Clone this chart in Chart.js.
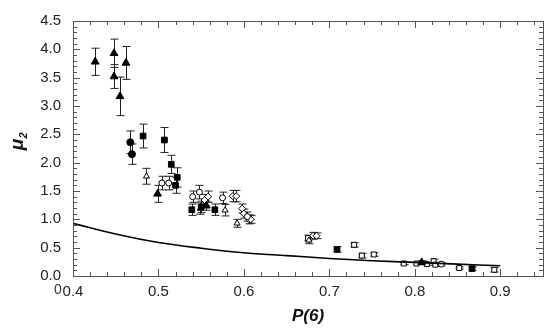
<!DOCTYPE html>
<html>
<head>
<meta charset="utf-8">
<script src="https://cdn.jsdelivr.net/npm/chart.js@4.4.0/dist/chart.umd.min.js"></script>
<style>
  html, body { margin: 0; padding: 0; background: #fff; }
  #wrap { width: 550px; height: 332px; }
</style>
</head>
<body>
<div id="wrap"><canvas id="chart" width="550" height="332"></canvas></div>
<script>
// Data: x = P(6), y = mu2, err = half error bar
const triFilledX = [0.426, 0.448, 0.448, 0.462, 0.455, 0.499, 0.556, 0.808];
const triFilledY = [3.78, 3.93, 3.52, 3.76, 3.17, 1.45, 1.24, 0.24];
const triFilledErr = [0.24, 0.25, 0.21, 0.29, 0.34, 0.15, 0.08, 0.03];

const circFilledX = [0.467, 0.469];
const circFilledY = [2.36, 2.15];
const circFilledErr = [0.20, 0.18];

const sqFilledX = [0.482, 0.507, 0.515, 0.522, 0.520, 0.539, 0.550, 0.566, 0.709, 0.867];
const sqFilledY = [2.47, 2.40, 1.97, 1.74, 1.60, 1.17, 1.22, 1.17, 0.47, 0.13];
const sqFilledErr = [0.21, 0.22, 0.16, 0.17, 0.14, 0.10, 0.10, 0.10, 0.05, 0.03];

const triOpenX = [0.486, 0.549, 0.578, 0.592, 0.676];
const triOpenY = [1.76, 1.19, 1.16, 0.93, 0.63];
const triOpenErr = [0.14, 0.10, 0.10, 0.07, 0.06];

const circOpenX = [0.504, 0.512, 0.540, 0.548, 0.575, 0.604, 0.831];
const circOpenY = [1.64, 1.64, 1.40, 1.48, 1.38, 1.05, 0.21];
const circOpenErr = [0.12, 0.12, 0.10, 0.12, 0.10, 0.08, 0.03];

const diaOpenX = [0.554, 0.558, 0.587, 0.591, 0.598, 0.600, 0.606, 0.608, 0.681, 0.685];
const diaOpenY = [1.34, 1.40, 1.41, 1.41, 1.19, 1.10, 1.00, 1.00, 0.71, 0.71];
const diaOpenErr = [0.10, 0.10, 0.10, 0.10, 0.08, 0.08, 0.08, 0.07, 0.06, 0.05];

const sqOpenX = [0.675, 0.729, 0.738, 0.752, 0.787, 0.802, 0.814, 0.822, 0.824, 0.852, 0.893];
const sqOpenY = [0.67, 0.55, 0.36, 0.38, 0.22, 0.22, 0.21, 0.26, 0.20, 0.14, 0.11];
const sqOpenErr = [0.05, 0.04, 0.04, 0.03, 0.02, 0.02, 0.02, 0.04, 0.02, 0.02, 0.04];

// theory curve
const curveX = [0.40, 0.45, 0.50, 0.55, 0.60, 0.65, 0.70, 0.75, 0.80, 0.85, 0.90];
const curveY = [0.93, 0.74, 0.59, 0.49, 0.41, 0.36, 0.31, 0.27, 0.24, 0.21, 0.18];

const xTicks = [0.4, 0.5, 0.6, 0.7, 0.8, 0.9];
const yTicks = [0, 0.5, 1.0, 1.5, 2.0, 2.5, 3.0, 3.5, 4.0, 4.5];

const FONT = "'Liberation Sans', Arial, sans-serif";

function pts(xs, ys, errs) {
  return xs.map((x, i) => ({ x: x, y: ys[i], err: errs ? errs[i] : 0 }));
}

function markerSet(label, xs, ys, errs, style, filled, r) {
  return {
    label: label,
    data: pts(xs, ys, errs),
    showLine: false,
    pointStyle: style,
    pointRadius: r,
    pointBorderWidth: 1,
    pointBackgroundColor: filled ? "#000" : "#fff",
    pointBorderColor: "#000",
    errorBars: true
  };
}

// error bars, frame with inner ticks, y title
const decorations = {
  id: "decorations",
  beforeDatasetsDraw(chart) {
    const ctx = chart.ctx;
    const xs = chart.scales.x, ys = chart.scales.y;
    ctx.save();
    ctx.strokeStyle = "#222";
    ctx.lineWidth = 1;
    chart.data.datasets.forEach((ds) => {
      if (!ds.errorBars) return;
      ds.data.forEach((p) => {
        const px = Math.round(xs.getPixelForValue(p.x)) + 0.5;
        const top = ys.getPixelForValue(p.y + p.err);
        const bot = ys.getPixelForValue(p.y - p.err);
        ctx.beginPath();
        ctx.moveTo(px, top); ctx.lineTo(px, bot);
        ctx.moveTo(px - 4, top); ctx.lineTo(px + 4, top);
        ctx.moveTo(px - 4, bot); ctx.lineTo(px + 4, bot);
        ctx.stroke();
      });
    });
    ctx.restore();
  },
  afterDraw(chart) {
    const ctx = chart.ctx;
    const a = chart.chartArea;
    const xs = chart.scales.x, ys = chart.scales.y;
    ctx.save();
    ctx.strokeStyle = "#555";
    ctx.lineWidth = 1;
    ctx.strokeRect(Math.round(a.left) + 0.5, Math.round(a.top) + 0.5,
      Math.round(a.right - a.left), Math.round(a.bottom - a.top));
    ctx.beginPath();
    // x ticks every 0.02, major every 0.1
    for (let k = 20; k <= 47; k++) {
      const v = k * 0.02;
      const px = Math.round(xs.getPixelForValue(v)) + 0.5;
      const len = (k % 5 === 0) ? 7 : 4;
      ctx.moveTo(px, a.bottom); ctx.lineTo(px, a.bottom - len);
      ctx.moveTo(px, a.top); ctx.lineTo(px, a.top + len);
    }
    // y ticks every 0.1, major every 0.5
    for (let k = 0; k <= 45; k++) {
      const v = k * 0.1;
      const py = Math.round(ys.getPixelForValue(v)) + 0.5;
      const len = (k % 5 === 0) ? 7 : 4;
      ctx.moveTo(a.left, py); ctx.lineTo(a.left + len, py);
      ctx.moveTo(a.right, py); ctx.lineTo(a.right - len, py);
    }
    ctx.stroke();

    // y axis title: mu with subscript 2
    ctx.translate(18, (a.top + a.bottom) / 2 - 8);
    ctx.rotate(-Math.PI / 2);
    ctx.fillStyle = "#111";
    ctx.textBaseline = "middle";
    ctx.textAlign = "center";
    ctx.font = "bold italic 19px " + FONT;
    ctx.fillText("\u03bc", -4, 0);
    ctx.font = "bold italic 11px " + FONT;
    ctx.fillText("2", 5, 6);
    ctx.restore();

    // stray zero under the y labels
    ctx.save();
    ctx.fillStyle = "#333";
    ctx.font = "14px " + FONT;
    ctx.textAlign = "center";
    ctx.textBaseline = "middle";
    ctx.fillText("0", 58, 290);
    ctx.restore();
  }
};

const ctx = document.getElementById("chart").getContext("2d");
new Chart(ctx, {
  type: "scatter",
  data: {
    datasets: [
      {
        label: "theory",
        data: pts(curveX, curveY),
        showLine: true,
        borderColor: "#000",
        borderWidth: 1.6,
        pointRadius: 0,
        cubicInterpolationMode: "monotone",
        fill: false
      },
      markerSet("filled triangles", triFilledX, triFilledY, triFilledErr, "triangle", true, 4.5),
      markerSet("filled circles", circFilledX, circFilledY, circFilledErr, "circle", true, 3.5),
      markerSet("filled squares", sqFilledX, sqFilledY, sqFilledErr, "rect", true, 4),
      markerSet("open triangles", triOpenX, triOpenY, triOpenErr, "triangle", false, 3.5),
      markerSet("open circles", circOpenX, circOpenY, circOpenErr, "circle", false, 3),
      markerSet("open diamonds", diaOpenX, diaOpenY, diaOpenErr, "rectRot", false, 3.5),
      markerSet("open squares", sqOpenX, sqOpenY, sqOpenErr, "rect", false, 3.5)
    ]
  },
  options: {
    responsive: false,
    animation: false,
    layout: { padding: { left: 0, top: 15, right: 7, bottom: 0 } },
    plugins: {
      legend: { display: false },
      tooltip: { enabled: false }
    },
    scales: {
      x: {
        type: "linear",
        min: 0.4,
        max: 0.95,
        grid: { display: false, drawTicks: false, tickLength: 0 },
        border: { display: false },
        afterBuildTicks: (s) => { s.ticks = xTicks.map((v) => ({ value: v })); },
        afterFit: (s) => { s.height = 56; },
        ticks: {
          color: "#222",
          padding: 7,
          maxRotation: 0,
          font: { family: FONT, size: 15 },
          callback: (v) => Number(v).toFixed(1)
        },
        title: {
          display: true,
          text: "P(6)",
          color: "#111",
          padding: { top: 0, bottom: 5 },
          font: { family: FONT, size: 17, weight: "bold", style: "italic" }
        }
      },
      y: {
        type: "linear",
        min: 0,
        max: 4.5,
        grid: { display: false, drawTicks: false, tickLength: 0 },
        border: { display: false },
        afterBuildTicks: (s) => { s.ticks = yTicks.map((v) => ({ value: v })); },
        afterFit: (s) => { s.width = 73; },
        ticks: {
          color: "#222",
          padding: 12,
          font: { family: FONT, size: 15 },
          callback: (v) => Number(v).toFixed(1)
        }
      }
    }
  },
  plugins: [decorations]
});
</script>
</body>
</html>
